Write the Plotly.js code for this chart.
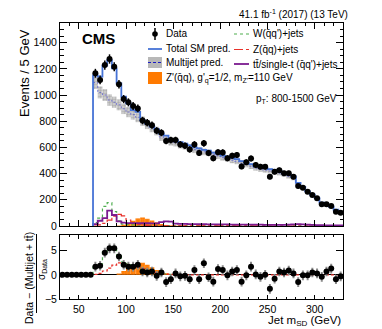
<!DOCTYPE html>
<html>
<head>
<meta charset="utf-8">
<script src="https://cdn.plot.ly/plotly-3.0.1.min.js"></script>
<style>
  body { margin: 0; background: #fff; }
  #chart { width: 382px; height: 329px; }
</style>
</head>
<body>
<div id="chart"></div>
<script>
// bins are 5 GeV wide, mass axis 30-330 GeV
const binW = 5;
const firstBin = 65;      // first filled bin of the main panel
const pullStart = 30;     // ratio panel starts at the axis edge

// events per bin, 67.5 ... 327.5 GeV
const dataEvents = [1166,1115,1229,1275,1216,1082,969,944,916,898,
  805,789,770,728,712,649,656,656,623,613,
  585,623,558,631,557,517,563,562,517,537,
  542,455,487,516,466,453,453,376,415,425,
  402,402,376,305,292,262,237,211,166,166,
  153,109,102];

const totalSM = [1150,1140,1224,1267,1204,1089,987,937,885,872,
  809,784,760,740,705,690,665,656,640,628,
  615,600,592,582,575,560,552,538,530,518,
  510,495,485,472,458,450,442,435,428,418,
  405,392,378,330,298,265,240,213,178,162,
  148,124,108];

const multijet = [1095,1020,1000,962,945,925,895,870,850,830,
  800,775,750,725,680,665,643,636,620,610,
  597,583,575,566,559,544,536,522,514,502,
  494,479,469,456,442,434,426,420,413,404,
  392,379,366,318,287,255,231,204,170,155,
  141,118,102];
const multijetRelUnc = 0.045;

const wJets = [25,60,150,178,110,40,15,10,8,7,
  6,5,4,4,3,3,3,2,2,2,
  2,2,2,2,2,2,2,2,2,2,
  1,1,1,1,1,1,1,1,1,1,
  1,1,1,1,1,1,1,1,1,1,
  1,1,1];

const zJets = [0,8,20,45,75,88,78,45,20,10,
  6,4,3,3,2,2,2,2,1,1,
  1,1,1,1,1,1,1,1,1,1,
  1,1,1,1,1,0,0,0,0,0,
  0,0,0,0,0,0,0,0,0,0,
  0,0,0];

const ttbar = [15,40,60,118,84,35,25,22,22,22,
  21,21,20,20,30,36,34,18,16,16,
  15,15,14,14,13,13,12,12,12,11,
  11,11,10,10,10,10,9,9,9,9,
  9,10,12,14,13,10,8,7,6,5,
  5,4,4];

const zprime = [0,0,0,0,0,3,10,22,40,58,
  65,55,42,28,15,8,5,3,2,2,
  2,1,1,1,1,1,1,1,1,1,
  1,1,1,0,0,0,0,0,0,0,
  0,0,0,0,0,0,0,0,0,0,
  0,0,0];

// (Data - (Multijet + tt)) / sigma_Data, 32.5 ... 327.5 GeV
const pullData = [0,0,0,0,0,0,0,1.7,1.9,4.6,
  5.5,5.5,3.8,2.1,1.7,1.7,2.1,0.7,0.5,0.7,
  -0.2,0.5,-1.5,-0.9,0.3,-0.3,-0.2,-0.9,1.0,-0.9,
  2.4,-0.5,-1.4,1.2,1.0,-0.1,0.7,1.0,-1.4,-0.1,
  1.7,0.1,-0.4,0.0,-2.9,-0.8,0.7,0.5,0.9,0.3,
  -1.5,-0.1,-0.1,0.5,0.3,-0.4,0.7,1.3,-0.9,-0.3];
const pullErr = [0,0,0,0,0,0,0,1,1,1,1,1,1,1,1,1,1,1,1,1,
  1,1,1,1,1,1,1,1,1,1,1,1,1,1,1,1,1,1,1,1,
  1,1,1,1,1,1,1,1,1,1,1,1,1,1,1,1,1,1,1,1];

// from 65 GeV
const pullWZ = [1.6,2.2,4.8,5.3,5.3,4.0,2.7,2.3,2.0,1.7,1.3,1.0,0.7,0.5,0.3,0.2,0.1];
// from 30 GeV
const pullZ = [0,0,0,0,0,0,0,0.1,0.3,0.8,
  1.4,2.0,2.5,2.4,2.2,1.9,1.6,1.3,1.0,0.7,
  0.5,0.3,0.15,0.1,0,0,0,0,0,0,
  0,0,0,0,0,0,0,0,0,0,
  0,0,0,0,0,0,0,0,0,0,
  0,0,0,0,0,0,0,0,0,0];
// from 90 GeV
const pullZprime = [0.3,0.8,1.4,2.0,2.4,2.5,2.1,1.6,1.0,0.6,0.35,0.2,0.1];

function centers(start, n) {
  let arr = [];
  for (let i = 0; i < n; i++) arr.push(start + binW * (i + 0.5));
  return arr;
}

function step(start, vals, fromZero) {
  let x = [], y = [];
  if (fromZero) { x.push(start); y.push(0); }
  for (let i = 0; i < vals.length; i++) {
    x.push(start + binW * i);
    y.push(vals[i]);
  }
  x.push(start + binW * vals.length);
  y.push(vals[vals.length - 1]);
  return {x: x, y: y};
}

function stepTrace(start, vals, fromZero, line, xa, ya) {
  let s = step(start, vals, fromZero);
  return {x: s.x, y: s.y, type: 'scatter', mode: 'lines',
    line: Object.assign({shape: 'hv'}, line),
    xaxis: xa, yaxis: ya, hoverinfo: 'skip'};
}

const blue = '#4673d6';
const green = '#4fae4f';
const red = '#e8312a';
const purple = '#7b1a8f';
const orange = '#ff7a00';

const orangeFill = {color: orange, line: {width: 0},
  pattern: {shape: '+', bgcolor: orange, fgcolor: '#ffa24d', size: 3, solidity: 0.25, fillmode: 'overlay'}};

let mjLow = multijet.map(v => v * (1 - multijetRelUnc));
let mjSpan = multijet.map(v => 2 * v * multijetRelUnc);

let traces = [
  {x: centers(firstBin, multijet.length), y: mjSpan, base: mjLow, type: 'bar', width: binW,
    marker: {color: '#d4d4d4', line: {width: 0},
      pattern: {shape: '.', bgcolor: '#d4d4d4', fgcolor: '#8c8c8c', size: 3, solidity: 0.5, fillmode: 'overlay'}},
    hoverinfo: 'skip'},
  stepTrace(firstBin, multijet, false, {color: '#3a3ad0', width: 0.6, dash: '2px,2px'}, 'x', 'y'),
  {x: centers(firstBin, zprime.length), y: zprime, type: 'bar', width: binW,
    marker: orangeFill, hoverinfo: 'skip'},
  stepTrace(firstBin, wJets, true, {color: green, width: 1.2, dash: 'dot'}, 'x', 'y'),
  stepTrace(firstBin, zJets, true, {color: red, width: 1.2, dash: 'dashdot'}, 'x', 'y'),
  stepTrace(firstBin, ttbar, true, {color: purple, width: 1.8}, 'x', 'y'),
  stepTrace(firstBin, totalSM, true, {color: blue, width: 1.8}, 'x', 'y'),
  {x: centers(firstBin, dataEvents.length), y: dataEvents, type: 'scatter', mode: 'markers',
    marker: {color: 'black', size: 6},
    error_y: {type: 'sqrt', color: 'black', thickness: 1.5, width: 0},
    hoverinfo: 'skip'},

  // ratio panel
  {x: centers(90, pullZprime.length), y: pullZprime, type: 'bar', width: binW,
    xaxis: 'x2', yaxis: 'y2', marker: orangeFill, hoverinfo: 'skip'},
  stepTrace(firstBin, pullWZ, true, {color: green, width: 1.2, dash: 'dot'}, 'x2', 'y2'),
  stepTrace(pullStart, pullZ, false, {color: red, width: 1.2, dash: '3px,2px'}, 'x2', 'y2'),
  {x: centers(pullStart, pullData.length), y: pullData, type: 'scatter', mode: 'markers',
    xaxis: 'x2', yaxis: 'y2',
    marker: {color: 'black', size: 6},
    error_y: {type: 'data', array: pullErr, color: '#8a8a8a', thickness: 2, width: 0},
    hoverinfo: 'skip'}
];

// pixel -> paper helpers (plot area 60..343 x 23..299)
const X = px => (px - 60) / 283;
const Y = py => (299 - py) / 276;

const font = 'Liberation Sans, Arial, sans-serif';

function txt(text, px, py, size, anchor, extra) {
  return Object.assign({text: text, x: X(px), y: Y(py), xref: 'paper', yref: 'paper',
    xanchor: anchor || 'left', yanchor: 'middle', showarrow: false,
    font: {family: font, size: size, color: 'black'}}, extra || {});
}

function hline(x0, x1, py, color, width, dash) {
  return {type: 'line', xref: 'paper', yref: 'paper', x0: X(x0), x1: X(x1), y0: Y(py), y1: Y(py),
    line: {color: color, width: width, dash: dash || 'solid'}};
}

let annotations = [
  txt('<b>CMS</b>', 80, 38, 15),
  txt('41.1 fb<sup>-1</sup> (2017) (13 TeV)', 350, 14, 10, 'right'),
  txt('p<sub>T</sub>: 800-1500 GeV', 339, 99, 10, 'right'),
  txt('Events / 5 GeV', 24, 73, 13, 'center', {textangle: -90}),
  txt('Data \u2212 (Multijet + tt\u0304)', 29, 278, 10.5, 'center', {textangle: -90}),
  txt('\u03c3<sub>Data</sub>', 42, 270, 10, 'center', {textangle: -90}),
  txt('Jet m<sub>SD</sub> (GeV)', 343, 321, 11.5, 'right'),
  // legend
  txt('Data', 164, 34, 10),
  txt('Total SM pred.', 164, 49, 10),
  txt('Multijet pred.', 164, 63, 10),
  txt("Z'(q\u0304q), g'<sub>q</sub>=1/2, m<sub>Z'</sub>=110 GeV", 164, 78, 10),
  txt("W(q\u0304q')+jets", 251, 34, 10),
  txt('Z(q\u0304q)+jets', 251, 49.5, 10),
  txt("tt\u0304/single-t (q\u0304q')+jets", 251, 64, 10)
];

let shapes = [
  {type: 'line', xref: 'paper', yref: 'paper', x0: X(36.5), x1: X(36.5), y0: Y(234), y1: Y(313),
    line: {color: 'black', width: 1}},
  // legend keys
  {type: 'line', xref: 'paper', yref: 'paper', x0: X(155), x1: X(155), y0: Y(28), y1: Y(40),
    line: {color: 'black', width: 1.5}},
  {type: 'circle', xref: 'paper', yref: 'paper', x0: X(152.2), x1: X(157.8), y0: Y(36.8), y1: Y(31.2),
    fillcolor: 'black', line: {width: 0}},
  hline(148, 162, 49, blue, 1.8),
  {type: 'rect', xref: 'paper', yref: 'paper', x0: X(148), x1: X(162), y0: Y(57), y1: Y(68),
    fillcolor: '#b8b8b8', line: {width: 0}},
  hline(148, 162, 62.5, '#1b1bc4', 1, '3px,2px'),
  {type: 'rect', xref: 'paper', yref: 'paper', x0: X(148), x1: X(162), y0: Y(72), y1: Y(84),
    fillcolor: orange, line: {width: 0}},
  hline(234, 249, 34, green, 1.2, 'dot'),
  hline(234, 249, 49.5, red, 1.2, 'dashdot'),
  hline(234, 249, 64, purple, 1.8)
];

const axisBase = {
  showline: true, linecolor: 'black', linewidth: 1, mirror: 'ticks',
  ticks: 'inside', tickcolor: 'black', showgrid: false, zeroline: false,
  tickfont: {family: font, size: 10.5, color: 'black'}
};

let layout = {
  width: 382, height: 329,
  margin: {l: 60, r: 39, t: 23, b: 30},
  paper_bgcolor: 'white', plot_bgcolor: 'white',
  showlegend: false, barmode: 'overlay',
  xaxis: Object.assign({}, axisBase, {range: [30, 330], anchor: 'y', showticklabels: false,
    dtick: 50, ticklen: 6, minor: {dtick: 10, ticklen: 3, ticks: 'inside', tickcolor: 'black'}}),
  yaxis: Object.assign({}, axisBase, {range: [0, 1550], domain: [0.2645, 1], anchor: 'x',
    dtick: 200, ticklen: 7, minor: {dtick: 50, ticklen: 3.5, ticks: 'inside', tickcolor: 'black'}}),
  xaxis2: Object.assign({}, axisBase, {range: [30, 330], anchor: 'y2',
    dtick: 50, ticklen: 4, minor: {dtick: 10, ticklen: 2, ticks: 'inside', tickcolor: 'black'}}),
  yaxis2: Object.assign({}, axisBase, {range: [-5, 8.2], domain: [0, 0.2308], anchor: 'x2',
    tickvals: [-5, 0, 5], ticklen: 7, zeroline: true, zerolinecolor: 'black', zerolinewidth: 1}),
  annotations: annotations,
  shapes: shapes
};

Plotly.newPlot('chart', traces, layout, {displayModeBar: false, staticPlot: true});
</script>
</body>
</html>
